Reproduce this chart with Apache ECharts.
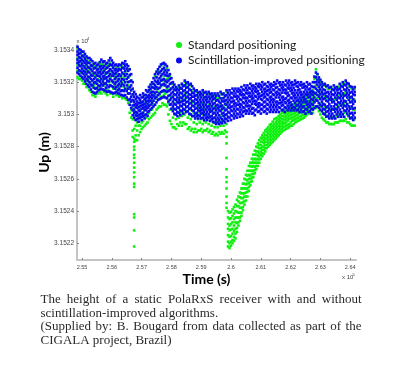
<!DOCTYPE html>
<html><head><meta charset="utf-8">
<script src="https://cdn.jsdelivr.net/npm/echarts@6/dist/echarts.min.js"></script>
<style>html,body{margin:0;padding:0;background:#fff}#c{width:400px;height:384px}</style>
</head><body><div id="c"></div>
<script>
// Epoch times (s) of the sample columns
const timeS = [254850,254950,255050,255150,255250,255350,255450,255550,255650,255750,
255850,255950,256050,256150,256250,256350,256450,256550,256650,256750,
256850,256950,257050,257150,257250,257350,257450,257550,257650,257750,
257850,257950,258050,258150,258250,258350,258450,258550,258650,258750,
258850,258950,259050,259150,259250,259350,259450,259550,259650,259750,
259850,259950,260050,260150,260250,260350,260450,260550,260650,260750,
260850,260950,261050,261150,261250,261350,261450,261550,261650,261750,
261850,261950,262050,262150,262250,262350,262450,262550,262650,262750,
262850,262950,263050,263150,263250,263350,263450,263550,263650,263750,
263850,263950,264050,264150];
// Epoch times (s) of the in-between sample columns
const timeMidS = [254900,255000,255100,255200,255300,255400,255500,255600,255700,255800,
255900,256000,256100,256200,256300,256400,256500,256600,256700,256800,
256900,257000,257100,257200,257300,257400,257500,257600,257700,257800,
257900,258000,258100,258200,258300,258400,258500,258600,258700,258800,
258900,259000,259100,259200,259300,259400,259500,259600,259700,259800,
259900,260000,260100,260200,260300,260400,260500,260600,260700,260800,
260900,261000,261100,261200,261300,261400,261500,261600,261700,261800,
261900,262000,262100,262200,262300,262400,262500,262600,262700,262800,
262900,263000,263100,263200,263300,263400,263500,263600,263700,263800,
263900,264000,264100];

// Up (m), scintillation-improved positioning
const scintUpM = [
[31534.2,31533.9,31533.7,31533.4,31533.2,31532.9,31532.6],
[31534.0,31533.8,31533.5,31533.3,31533.0,31532.7,31532.4],
[31533.9,31533.6,31533.3,31533.0,31532.7,31532.5,31532.2],
[31533.6,31533.3,31533.1,31532.8,31532.5,31532.2,31531.9],
[31533.5,31533.2,31532.9,31532.6,31532.3,31532.0,31531.7],
[31533.3,31533.0,31532.7,31532.4,31532.1,31531.8,31531.4],
[31533.2,31532.9,31532.6,31532.3,31532.0,31531.6,31531.3],
[31533.1,31532.8,31532.6,31532.4,31532.1,31531.8,31531.5],
[31533.4,31533.0,31532.8,31532.5,31532.2,31531.9,31531.6],
[31533.3,31533.0,31532.7,31532.4,31532.2,31531.9,31531.5],
[31533.2,31532.9,31532.6,31532.3,31532.1,31531.8,31531.4],
[31533.5,31533.1,31532.8,31532.5,31532.2,31531.8,31531.4],
[31533.2,31532.9,31532.6,31532.4,31532.0,31531.7,31531.3],
[31533.1,31532.8,31532.6,31532.3,31532.0,31531.7,31531.4],
[31533.1,31532.8,31532.5,31532.2,31531.9,31531.6,31531.3],
[31533.2,31532.9,31532.6,31532.2,31531.9,31531.5,31531.2],
[31533.3,31533.0,31532.7,31532.4,31532.0,31531.6,31531.2],
[31533.0,31532.7,31532.3,31532.0,31531.6,31531.3,31530.9],
[31532.5,31532.1,31531.8,31531.5,31531.1,31530.8,31530.4],
[31531.4,31531.1,31530.8,31530.6,31530.3,31530.1,31529.8],
[31531.1,31530.8,31530.6,31530.4,31530.1,31529.9,31529.7],
[31531.2,31530.9,31530.7,31530.5,31530.2,31530.0,31529.8],
[31531.3,31531.1,31530.8,31530.6,31530.4,31530.1,31529.9],
[31531.5,31531.2,31531.0,31530.8,31530.5,31530.3,31530.0],
[31531.7,31531.5,31531.2,31531.0,31530.8,31530.5,31530.2],
[31532.0,31531.7,31531.4,31531.2,31531.0,31530.7,31530.4],
[31532.5,31532.1,31531.8,31531.6,31531.3,31531.0,31530.6],
[31532.8,31532.5,31532.1,31531.9,31531.6,31531.2,31530.9],
[31533.1,31532.7,31532.4,31532.1,31531.8,31531.4,31531.0],
[31533.2,31532.9,31532.6,31532.2,31531.9,31531.5,31531.1],
[31533.0,31532.6,31532.4,31532.0,31531.7,31531.4,31531.0],
[31532.5,31532.2,31531.9,31531.5,31531.2,31530.9,31530.6],
[31532.0,31531.7,31531.4,31531.1,31530.8,31530.5,31530.2],
[31531.7,31531.5,31531.2,31530.9,31530.6,31530.3,31530.0],
[31531.8,31531.5,31531.2,31530.9,31530.7,31530.4,31530.1],
[31531.9,31531.6,31531.3,31531.0,31530.8,31530.5,31530.2],
[31532.1,31531.8,31531.5,31531.2,31530.9,31530.6,31530.3],
[31532.0,31531.7,31531.4,31531.1,31530.8,31530.5,31530.2],
[31531.9,31531.5,31531.2,31531.0,31530.7,31530.4,31530.0],
[31531.6,31531.3,31531.1,31530.8,31530.5,31530.2,31529.9],
[31531.5,31531.2,31530.9,31530.7,31530.4,31530.1,31529.9],
[31531.4,31531.2,31530.9,31530.6,31530.4,31530.2,31529.9],
[31531.5,31531.2,31530.9,31530.6,31530.3,31530.1,31529.8],
[31531.4,31531.1,31530.9,31530.6,31530.3,31530.0,31529.8],
[31531.4,31531.1,31530.8,31530.5,31530.3,31530.0,31529.8],
[31531.3,31531.1,31530.8,31530.5,31530.2,31529.9,31529.7],
[31531.3,31531.0,31530.7,31530.4,31530.1,31529.8,31529.5],
[31531.3,31530.9,31530.6,31530.4,31530.1,31529.8,31529.5],
[31531.4,31531.0,31530.7,31530.5,31530.2,31529.8,31529.5],
[31531.3,31531.0,31530.8,31530.4,31530.1,31529.9,31529.6],
[31531.5,31531.2,31530.9,31530.6,31530.3,31530.0,31529.7],
[31531.5,31531.2,31530.9,31530.6,31530.4,31530.1,31529.8],
[31531.6,31531.3,31531.0,31530.8,31530.5,31530.2,31529.9],
[31531.6,31531.3,31531.1,31530.7,31530.5,31530.2,31529.9],
[31531.6,31531.4,31531.1,31530.8,31530.6,31530.3,31530.0],
[31531.7,31531.4,31531.2,31530.9,31530.6,31530.3,31530.0],
[31531.8,31531.5,31531.2,31531.0,31530.7,31530.4,31530.2],
[31531.8,31531.5,31531.3,31531.0,31530.7,31530.5,31530.2],
[31531.9,31531.6,31531.3,31531.1,31530.8,31530.5,31530.2],
[31531.8,31531.6,31531.3,31531.0,31530.8,31530.4,31530.1],
[31531.9,31531.6,31531.4,31531.1,31530.8,31530.6,31530.3],
[31531.9,31531.7,31531.3,31531.1,31530.7,31530.5,31530.2],
[31532.0,31531.7,31531.4,31531.2,31530.9,31530.6,31530.3],
[31531.9,31531.6,31531.4,31531.1,31530.8,31530.5,31530.2],
[31532.0,31531.7,31531.5,31531.2,31530.9,31530.6,31530.3],
[31531.9,31531.7,31531.4,31531.1,31530.9,31530.6,31530.3],
[31532.0,31531.8,31531.5,31531.2,31530.9,31530.6,31530.3],
[31532.1,31531.7,31531.4,31531.2,31530.8,31530.6,31530.3],
[31532.0,31531.8,31531.5,31531.2,31530.9,31530.7,31530.4],
[31532.0,31531.7,31531.5,31531.1,31530.9,31530.6,31530.3],
[31532.1,31531.8,31531.5,31531.3,31531.0,31530.7,31530.4],
[31532.1,31531.8,31531.6,31531.2,31530.9,31530.7,31530.4],
[31532.0,31531.8,31531.5,31531.3,31531.0,31530.6,31530.4],
[31532.1,31531.9,31531.5,31531.2,31531.0,31530.7,31530.4],
[31532.0,31531.7,31531.5,31531.2,31530.9,31530.6,31530.3],
[31532.0,31531.8,31531.4,31531.2,31530.9,31530.6,31530.3],
[31531.9,31531.7,31531.4,31531.1,31530.9,31530.5,31530.2],
[31532.0,31531.7,31531.4,31531.2,31530.8,31530.6,31530.3],
[31531.9,31531.6,31531.4,31531.1,31530.8,31530.5,31530.2],
[31532.0,31531.7,31531.4,31531.2,31530.9,31530.6,31530.3],
[31532.6,31532.3,31532.0,31531.6,31531.3,31530.9,31530.5],
[31532.3,31532.0,31531.7,31531.4,31531.1,31530.7,31530.4],
[31532.0,31531.7,31531.4,31531.1,31530.8,31530.5,31530.2],
[31531.9,31531.5,31531.3,31531.0,31530.6,31530.3,31530.0],
[31531.8,31531.4,31531.1,31530.8,31530.5,31530.2,31529.9],
[31531.7,31531.4,31531.1,31530.9,31530.5,31530.2,31529.9],
[31531.8,31531.5,31531.2,31530.8,31530.5,31530.3,31529.9],
[31531.7,31531.5,31531.2,31530.9,31530.6,31530.3,31530.0],
[31531.9,31531.6,31531.3,31531.0,31530.7,31530.3,31530.0],
[31532.0,31531.7,31531.3,31531.0,31530.7,31530.4,31530.0],
[31532.1,31531.8,31531.5,31531.2,31530.8,31530.5,31530.2],
[31531.9,31531.5,31531.2,31530.9,31530.5,31530.2,31529.9],
[31531.7,31531.4,31531.1,31530.8,31530.5,31530.1,31529.8],
[31531.7,31531.4,31531.2,31530.8,31530.4,31530.1,31529.8]
];
const scintUpMidM = [
[31534.05,31533.75,31533.55,31533.25,31533.05,31532.75,31532.50],
[31533.90,31533.65,31533.40,31533.15,31532.85,31532.60,31532.30],
[31533.75,31533.45,31533.20,31532.90,31532.65,31532.35,31532.05],
[31533.50,31533.20,31532.95,31532.65,31532.35,31532.10,31531.80],
[31533.40,31533.05,31532.80,31532.45,31532.20,31531.85,31531.55],
[31533.15,31532.85,31532.55,31532.20,31531.95,31531.65,31531.35],
[31533.05,31532.75,31532.45,31532.15,31531.90,31531.65,31531.40],
[31533.25,31532.95,31532.65,31532.35,31532.05,31531.75,31531.55],
[31533.25,31532.90,31532.60,31532.35,31532.05,31531.80,31531.55],
[31533.15,31532.85,31532.55,31532.25,31531.95,31531.65,31531.45],
[31533.35,31533.00,31532.70,31532.40,31532.05,31531.70,31531.45],
[31533.35,31533.05,31532.70,31532.40,31532.10,31531.75,31531.35],
[31533.05,31532.75,31532.50,31532.20,31531.90,31531.60,31531.35],
[31533.00,31532.70,31532.40,31532.10,31531.80,31531.50,31531.30],
[31533.05,31532.75,31532.40,31532.05,31531.75,31531.45,31531.20],
[31533.15,31532.85,31532.50,31532.15,31531.80,31531.45,31531.15],
[31533.10,31532.85,31532.50,31532.20,31531.80,31531.45,31531.05],
[31532.80,31532.45,31532.05,31531.70,31531.30,31530.95,31530.60],
[31532.00,31531.60,31531.25,31530.90,31530.55,31530.25,31529.95],
[31531.25,31530.95,31530.65,31530.45,31530.15,31529.95,31529.65],
[31531.00,31530.70,31530.45,31530.25,31529.95,31529.75,31529.55],
[31531.05,31530.75,31530.55,31530.35,31530.05,31529.85,31529.65],
[31531.20,31530.95,31530.65,31530.45,31530.25,31529.95,31529.75],
[31531.40,31531.10,31530.85,31530.65,31530.40,31530.15,31529.90],
[31531.85,31531.60,31531.35,31531.10,31530.85,31530.60,31530.30],
[31532.25,31531.90,31531.65,31531.40,31531.15,31530.85,31530.50],
[31532.65,31532.30,31532.00,31531.70,31531.40,31531.10,31530.75],
[31532.95,31532.60,31532.25,31531.95,31531.65,31531.30,31530.95],
[31533.15,31532.80,31532.50,31532.15,31531.85,31531.45,31531.05],
[31533.10,31532.75,31532.45,31532.10,31531.80,31531.45,31531.05],
[31532.75,31532.40,31532.10,31531.75,31531.45,31531.15,31530.80],
[31532.25,31531.95,31531.60,31531.30,31531.00,31530.65,31530.35],
[31531.85,31531.55,31531.25,31530.95,31530.65,31530.35,31530.05],
[31531.60,31531.35,31531.05,31530.75,31530.45,31530.15,31529.90],
[31531.65,31531.35,31531.05,31530.75,31530.55,31530.25,31529.95],
[31531.75,31531.45,31531.15,31530.85,31530.65,31530.35,31530.05],
[31531.95,31531.65,31531.35,31531.05,31530.75,31530.45,31530.15],
[31531.85,31531.55,31531.25,31530.95,31530.65,31530.35,31530.05],
[31531.75,31531.35,31531.10,31530.85,31530.55,31530.25,31529.90],
[31531.45,31531.15,31530.95,31530.65,31530.35,31530.05,31529.75],
[31531.35,31531.05,31530.75,31530.55,31530.25,31529.95,31529.75],
[31531.30,31531.05,31530.75,31530.45,31530.25,31530.05,31529.75],
[31531.35,31531.05,31530.75,31530.45,31530.15,31529.95,31529.65],
[31531.25,31530.95,31530.75,31530.45,31530.15,31529.85,31529.65],
[31531.25,31530.95,31530.65,31530.35,31530.15,31529.85,31529.60],
[31531.15,31530.95,31530.65,31530.35,31530.05,31529.75,31529.55],
[31531.15,31530.85,31530.55,31530.25,31529.95,31529.65,31529.40],
[31531.15,31530.80,31530.45,31530.25,31529.95,31529.65,31529.40],
[31531.25,31530.85,31530.55,31530.35,31530.05,31529.70,31529.45],
[31531.15,31530.85,31530.65,31530.25,31529.95,31529.75,31529.50],
[31531.35,31531.05,31530.75,31530.45,31530.15,31529.85,31529.60],
[31531.35,31531.05,31530.75,31530.45,31530.25,31529.95,31529.65],
[31531.45,31531.15,31530.85,31530.65,31530.35,31530.05,31529.75],
[31531.45,31531.15,31530.95,31530.60,31530.35,31530.05,31529.80],
[31531.50,31531.25,31530.95,31530.65,31530.45,31530.15,31529.85],
[31531.55,31531.25,31531.05,31530.75,31530.45,31530.15,31529.90],
[31531.65,31531.35,31531.05,31530.85,31530.55,31530.25,31530.05],
[31531.65,31531.35,31531.15,31530.85,31530.55,31530.35,31530.05],
[31531.75,31531.45,31531.15,31530.95,31530.65,31530.35,31530.05],
[31531.70,31531.45,31531.15,31530.85,31530.65,31530.25,31529.95],
[31531.75,31531.45,31531.25,31530.95,31530.65,31530.45,31530.15],
[31531.80,31531.55,31531.15,31530.95,31530.60,31530.35,31530.05],
[31531.85,31531.55,31531.25,31531.05,31530.75,31530.45,31530.15],
[31531.75,31531.45,31531.25,31530.95,31530.65,31530.35,31530.05],
[31531.85,31531.55,31531.35,31531.05,31530.75,31530.45,31530.15],
[31531.80,31531.55,31531.25,31530.95,31530.75,31530.45,31530.15],
[31531.90,31531.65,31531.35,31531.05,31530.75,31530.45,31530.15],
[31531.95,31531.55,31531.30,31531.05,31530.70,31530.45,31530.15],
[31531.85,31531.65,31531.35,31531.05,31530.75,31530.55,31530.25],
[31531.85,31531.55,31531.35,31530.95,31530.75,31530.45,31530.15],
[31531.95,31531.65,31531.35,31531.15,31530.85,31530.55,31530.25],
[31531.95,31531.65,31531.45,31531.05,31530.75,31530.55,31530.25],
[31531.85,31531.65,31531.35,31531.15,31530.85,31530.45,31530.25],
[31531.95,31531.75,31531.35,31531.05,31530.85,31530.55,31530.25],
[31531.85,31531.55,31531.35,31531.05,31530.75,31530.45,31530.15],
[31531.85,31531.65,31531.25,31531.05,31530.75,31530.45,31530.15],
[31531.75,31531.55,31531.25,31530.95,31530.75,31530.35,31530.05],
[31531.85,31531.55,31531.25,31531.05,31530.65,31530.45,31530.15],
[31531.75,31531.45,31531.25,31530.95,31530.65,31530.35,31530.05],
[31532.35,31532.00,31531.70,31531.35,31531.05,31530.75,31530.40],
[31532.50,31532.15,31531.85,31531.50,31531.20,31530.85,31530.50],
[31532.15,31531.85,31531.55,31531.25,31530.95,31530.60,31530.30],
[31531.85,31531.55,31531.25,31530.95,31530.65,31530.35,31530.05],
[31531.75,31531.35,31531.15,31530.85,31530.45,31530.15,31529.85],
[31531.65,31531.25,31530.95,31530.65,31530.35,31530.05,31529.75],
[31531.55,31531.25,31530.95,31530.75,31530.35,31530.05,31529.75],
[31531.65,31531.35,31531.05,31530.65,31530.35,31530.15,31529.75],
[31531.55,31531.35,31531.05,31530.75,31530.45,31530.15,31529.85],
[31531.75,31531.45,31531.15,31530.85,31530.55,31530.15,31529.85],
[31531.85,31531.55,31531.15,31530.85,31530.55,31530.25,31529.85],
[31531.95,31531.65,31531.35,31531.05,31530.65,31530.35,31530.05],
[31531.75,31531.35,31531.05,31530.75,31530.35,31530.05,31529.75],
[31531.55,31531.25,31530.95,31530.65,31530.35,31529.95,31529.65]
];

// Up (m), standard positioning
const standardUpM = [
[31534.1,31533.5,31533.1,31532.7,31532.3],
[31533.9,31533.4,31533.0,31532.6,31532.2],
[31533.7,31533.2,31532.8,31532.3,31531.9],
[31533.4,31533.0,31532.6,31532.1,31531.7],
[31533.3,31532.8,31532.3,31531.9,31531.5],
[31533.1,31532.6,31532.1,31531.7,31531.2],
[31533.0,31532.5,31532.0,31531.6,31531.1],
[31533.2,31532.6,31532.2,31531.7,31531.3],
[31533.1,31532.7,31532.2,31531.8,31531.3],
[31533.3,31532.8,31532.3,31531.8,31531.4],
[31533.0,31532.6,31532.1,31531.6,31531.2],
[31533.2,31532.8,31532.3,31531.8,31531.3],
[31533.0,31532.5,31532.1,31531.6,31531.1],
[31532.9,31532.5,31532.0,31531.6,31531.2],
[31532.9,31532.4,31531.9,31531.5,31531.1],
[31533.0,31532.5,31532.0,31531.5,31531.0],
[31533.1,31532.6,31532.0,31531.5,31531.0],
[31532.8,31532.3,31531.8,31531.3,31530.7],
[31532.1,31531.5,31530.9,31530.3,31529.8],
[31530.8,31530.2,31529.7,31529.1,31528.5,31528.3,31528.0,31527.8,31527.5,31527.3,31527.0,31526.7,31526.4,31526.1,31525.7,31525.5,31523.8,31523.6,31522.8,31521.8],
[31530.6,31530.1,31529.5,31529.0,31528.4],
[31530.8,31530.3,31529.8,31529.3,31528.9],
[31531.1,31530.6,31530.1,31529.6,31529.2],
[31531.2,31530.7,31530.3,31529.8,31529.4],
[31531.7,31531.1,31530.6,31530.1,31529.7],
[31531.9,31531.3,31530.8,31530.3,31529.9],
[31532.4,31531.7,31531.1,31530.6,31530.1],
[31532.7,31532.0,31531.4,31530.9,31530.4],
[31533.0,31532.3,31531.7,31531.1,31530.5],
[31533.1,31532.4,31531.8,31531.2,31530.6],
[31532.9,31532.2,31531.6,31531.0,31530.5],
[31532.4,31531.6,31530.9,31530.3,31529.6],
[31531.9,31531.1,31530.4,31529.8,31529.2],
[31531.6,31530.9,31530.3,31529.7,31529.1],
[31531.7,31531.0,31530.4,31529.8,31529.3],
[31531.8,31531.1,31530.5,31529.9,31529.3],
[31532.0,31531.3,31530.6,31530.0,31529.4],
[31531.9,31531.2,31530.5,31529.8,31529.1],
[31531.8,31531.0,31530.3,31529.7,31529.0],
[31531.5,31530.8,31530.1,31529.5,31528.9],
[31531.4,31530.7,31530.0,31529.4,31528.9],
[31531.3,31530.7,31530.1,31529.5,31529.0],
[31531.4,31530.7,31530.0,31529.4,31528.9],
[31531.3,31530.6,31530.0,31529.5,31529.0],
[31531.3,31530.6,31530.0,31529.4,31528.9],
[31531.2,31530.5,31529.9,31529.3,31528.8],
[31531.2,31530.5,31529.8,31529.2,31528.7],
[31531.2,31530.4,31529.7,31529.2,31528.7],
[31531.3,31530.6,31529.9,31529.3,31528.8],
[31531.2,31530.5,31529.9,31529.3,31528.8],
[31531.4,31530.7,31530.0,31529.4,31528.9,31528.6,31528.2,31527.3,31526.6,31526.1,31525.8,31525.4,31524.9,31524.5,31524.2],
[31523.9,31523.5,31523.1,31522.8,31522.4,31522.0,31521.7],
[31524.1,31523.7,31523.3,31522.9,31522.6,31522.2,31522.0],
[31524.4,31524.0,31523.6,31523.3,31522.9,31522.6,31522.3],
[31524.9,31524.6,31524.3,31523.9,31523.6,31523.3,31523.1],
[31525.4,31525.1,31524.8,31524.5,31524.2,31523.9,31523.7],
[31526.0,31525.7,31525.4,31525.1,31524.9,31524.6,31524.4],
[31526.5,31526.2,31525.9,31525.7,31525.4,31525.2,31524.9],
[31527.0,31526.8,31526.5,31526.2,31526.0,31525.8,31525.6],
[31527.5,31527.2,31527.0,31526.8,31526.5,31526.3,31526.1],
[31528.0,31527.7,31527.5,31527.2,31527.0,31526.8,31526.6],
[31528.4,31528.1,31527.9,31527.6,31527.4,31527.2,31527.0],
[31528.7,31528.5,31528.3,31528.0,31527.8,31527.6,31527.4],
[31529.0,31528.7,31528.5,31528.3,31528.1,31527.9,31527.7],
[31529.2,31529.0,31528.8,31528.6,31528.4,31528.2,31528.0],
[31529.4,31529.2,31529.0,31528.8,31528.6,31528.4,31528.2],
[31529.7,31529.4,31529.2,31529.0,31528.8,31528.6,31528.4],
[31529.8,31529.6,31529.4,31529.2,31529.0,31528.8,31528.6],
[31530.0,31529.8,31529.6,31529.4,31529.2,31529.0,31528.8],
[31530.2,31529.9,31529.7,31529.5,31529.4,31529.2,31529.0],
[31530.3,31530.1,31529.9,31529.7,31529.5,31529.3,31529.1],
[31530.5,31530.3,31530.1,31529.9,31529.7,31529.4,31529.2],
[31530.6,31530.4,31530.2,31530.0,31529.8,31529.6,31529.3],
[31530.7,31530.5,31530.3,31530.1,31529.9,31529.7,31529.5],
[31530.8,31530.6,31530.4,31530.2,31530.0,31529.8,31529.6],
[31531.0,31530.7,31530.5,31530.3,31530.1,31529.9,31529.7],
[31531.1,31530.9,31530.7,31530.4,31530.2,31530.0,31529.8],
[31531.2,31531.0,31530.8,31530.6,31530.4,31530.2,31530.0],
[31531.3,31531.1,31530.9,31530.7,31530.5,31530.3,31530.1],
[31531.5,31531.2,31531.0,31530.8,31530.6,31530.4,31530.1],
[31532.8,31532.3,31531.8,31531.3,31530.9,31530.4],
[31532.2,31531.7,31531.2,31530.7,31530.2],
[31531.9,31531.3,31530.7,31530.2,31529.8],
[31531.8,31531.1,31530.5,31530.0,31529.6],
[31531.6,31531.0,31530.4,31529.9,31529.5],
[31531.7,31531.0,31530.3,31529.8,31529.4],
[31531.6,31530.9,31530.3,31529.8,31529.4],
[31531.7,31531.0,31530.4,31529.9,31529.5],
[31531.8,31531.2,31530.6,31530.0,31529.6],
[31531.9,31531.2,31530.6,31530.0,31529.6],
[31532.0,31531.4,31530.8,31530.2,31529.7],
[31531.8,31531.1,31530.5,31529.9,31529.5],
[31531.6,31531.0,31530.4,31529.8,31529.3],
[31531.6,31530.9,31530.3,31529.7,31529.3]
];
const standardUpMidM = [
[31533.8,31533.2,31532.7,31532.2],
[31533.6,31533.1,31532.6,31532.1],
[31533.5,31533.0,31532.4,31531.9],
[31533.2,31532.7,31532.2,31531.7],
[31533.0,31532.5,31532.0,31531.4],
[31532.9,31532.4,31531.8,31531.2],
[31532.9,31532.4,31531.9,31531.3],
[31533.0,31532.5,31532.0,31531.4],
[31533.1,31532.6,31532.0,31531.5],
[31533.0,31532.5,31531.9,31531.3],
[31533.1,31532.6,31532.0,31531.4],
[31533.0,31532.6,31532.0,31531.3],
[31532.8,31532.3,31531.8,31531.3],
[31532.8,31532.2,31531.7,31531.2],
[31532.8,31532.3,31531.8,31531.2],
[31532.9,31532.3,31531.7,31531.1],
[31532.8,31532.2,31531.6,31530.9],
[31532.4,31531.6,31530.8,31530.1],
[31531.2,31530.4,31529.7,31529.0,31528.6],
[31530.5,31529.9,31529.3,31528.7,31528.4],
[31530.4,31529.8,31529.3,31528.7],
[31530.6,31530.0,31529.5,31529.1],
[31530.9,31530.3,31529.8,31529.3],
[31531.1,31530.5,31530.0,31529.5],
[31531.5,31530.9,31530.3,31529.8],
[31531.9,31531.2,31530.6,31530.0],
[31532.3,31531.6,31531.0,31530.3],
[31532.6,31531.9,31531.2,31530.5],
[31532.8,31532.1,31531.4,31530.7],
[31532.7,31532.0,31531.3,31530.6],
[31532.3,31531.5,31530.7,31530.0],
[31531.9,31531.1,31530.3,31529.4],
[31531.5,31530.7,31530.0,31529.2],
[31531.5,31530.8,31530.1,31529.4],
[31531.6,31530.8,31530.1,31529.5],
[31531.8,31531.0,31530.2,31529.5],
[31531.8,31531.0,31530.2,31529.4],
[31531.6,31530.8,31530.0,31529.2],
[31531.4,31530.7,31529.9,31529.1],
[31531.2,31530.5,31529.8,31529.1],
[31531.1,31530.4,31529.7,31529.0],
[31531.1,31530.4,31529.7,31529.1],
[31531.0,31530.3,31529.6,31529.0],
[31531.1,31530.4,31529.7,31529.1],
[31531.0,31530.3,31529.6,31529.0],
[31530.9,31530.2,31529.5,31528.9],
[31531.0,31530.3,31529.5,31528.8],
[31531.0,31530.3,31529.6,31528.9],
[31531.0,31530.3,31529.6,31528.9],
[31531.1,31530.4,31529.7,31529.0],
[31524.0,31523.6,31523.2,31522.9,31522.5,31522.1,31521.8],
[31523.95,31523.55,31523.2,31522.85,31522.45,31522.1,31521.85],
[31524.25,31523.85,31523.5,31523.1,31522.75,31522.4,31522.15],
[31524.7,31524.3,31523.95,31523.6,31523.25,31522.95,31522.7],
[31525.15,31524.85,31524.5,31524.2,31523.9,31523.6,31523.4],
[31525.7,31525.4,31525.1,31524.8,31524.55,31524.25,31524.05],
[31526.25,31525.95,31525.65,31525.4,31525.15,31524.9,31524.65],
[31526.8,31526.5,31526.25,31526.0,31525.75,31525.5,31525.25],
[31527.25,31527.0,31526.75,31526.5,31526.3,31526.05,31525.85],
[31527.75,31527.5,31527.25,31527.0,31526.75,31526.55,31526.35],
[31528.2,31527.95,31527.7,31527.45,31527.25,31527.0,31526.8],
[31528.55,31528.3,31528.1,31527.9,31527.7,31527.5,31527.25],
[31528.85,31528.6,31528.4,31528.2,31528.0,31527.8,31527.55],
[31529.1,31528.9,31528.7,31528.5,31528.3,31528.1,31527.9],
[31529.35,31529.1,31528.9,31528.7,31528.5,31528.3,31528.1],
[31529.55,31529.3,31529.1,31528.9,31528.7,31528.5,31528.3],
[31529.75,31529.5,31529.3,31529.1,31528.9,31528.7,31528.5],
[31529.9,31529.7,31529.5,31529.3,31529.1,31528.9,31528.7],
[31530.1,31529.9,31529.7,31529.5,31529.3,31529.1,31528.9],
[31530.25,31530.05,31529.85,31529.65,31529.45,31529.25,31529.05],
[31530.4,31530.2,31530.0,31529.8,31529.6,31529.35,31529.15],
[31530.55,31530.35,31530.15,31529.95,31529.75,31529.5,31529.3],
[31530.65,31530.45,31530.25,31530.05,31529.85,31529.65,31529.4],
[31530.75,31530.55,31530.35,31530.15,31529.95,31529.75,31529.55],
[31530.9,31530.7,31530.5,31530.3,31530.1,31529.85,31529.65],
[31531.05,31530.85,31530.6,31530.4,31530.2,31529.95,31529.75],
[31531.15,31530.95,31530.75,31530.55,31530.3,31530.1,31529.9],
[31531.3,31531.1,31530.85,31530.65,31530.45,31530.25,31530.05],
[31531.4,31531.2,31530.95,31530.75,31530.55,31530.35,31530.1],
[31532.2,31531.7,31531.2,31530.8,31530.4],
[31532.5,31532.0,31531.5,31531.0,31530.5],
[31532.0,31531.5,31531.0,31530.5,31530.0],
[31531.8,31531.2,31530.6,31530.1,31529.7],
[31531.7,31531.0,31530.4,31529.9,31529.5],
[31531.6,31530.9,31530.3,31529.8,31529.4],
[31531.6,31530.9,31530.3,31529.8,31529.4],
[31531.6,31531.0,31530.4,31529.9,31529.5],
[31531.7,31531.1,31530.5,31529.9,31529.5],
[31531.8,31531.2,31530.6,31530.0,31529.6],
[31531.9,31531.3,31530.7,31530.1,31529.6],
[31531.9,31531.2,31530.6,31530.0,31529.5],
[31531.7,31531.0,31530.4,31529.8,31529.4],
[31531.6,31530.9,31530.3,31529.7,31529.3]
];

const seriesNames = ['Standard positioning', 'Scintillation-improved positioning'];
const seriesColors = ['#10f010', '#0808f2'];
const xTickValues = [255000,256000,257000,258000,259000,260000,261000,262000,263000,264000];
const yTickValues = [31522,31524,31526,31528,31530,31532,31534];
const xAxisTitle = 'Time (s)';
const yAxisTitle = 'Up (m)';
const xMultiplier = ['x 10', '5'];
const yMultiplier = ['x 10', '4'];
const captionLines = [
  {text: 'The height of a static PolaRxS receiver with and without', justify: true},
  {text: 'scintillation-improved algorithms.', justify: false},
  {text: '(Supplied by: B. Bougard from data collected as part of the', justify: true},
  {text: 'CIGALA project, Brazil)', justify: false}
];

function toPairs(times, up) {
  const out = [];
  up.forEach((col, i) => col.forEach(v => out.push([times[i], v])));
  return out;
}

const capFont = '13px "Liberation Serif"';
const measureCtx = document.createElement('canvas').getContext('2d');
measureCtx.font = capFont;

function captionGraphics() {
  const els = [];
  const left = 40.5, width = 321, y0 = 300, lh = 13.4;
  captionLines.forEach((ln, k) => {
    const y = y0 + k * lh;
    if (ln.justify) {
      const words = ln.text.split(' ');
      const ws = words.map(w => measureCtx.measureText(w).width);
      const total = ws.reduce((a, b) => a + b, 0);
      const gap = (width - total) / (words.length - 1);
      let x = left;
      words.forEach((w, j) => {
        els.push({type: 'text', x: x, y: y, silent: true,
          style: {text: w, font: capFont, fill: '#2a2a2a', align: 'left', verticalAlign: 'middle'}});
        x += ws[j] + gap;
      });
    } else {
      els.push({type: 'text', x: left, y: y, silent: true,
        style: {text: ln.text, font: capFont, fill: '#2a2a2a', align: 'left', verticalAlign: 'middle'}});
    }
  });
  return els;
}

function multiplierGraphics() {
  const st = (t, fs) => ({text: t, font: fs + 'px "Liberation Sans"', fill: '#444', align: 'left', verticalAlign: 'middle'});
  return [
    {type: 'text', x: 76.5, y: 41, style: st(yMultiplier[0], 6)},
    {type: 'text', x: 87, y: 38.5, style: st(yMultiplier[1], 4)},
    {type: 'text', x: 342, y: 277, style: st(xMultiplier[0], 6)},
    {type: 'text', x: 352.5, y: 274.5, style: st(xMultiplier[1], 4)}
  ];
}

const chart = echarts.init(document.getElementById('c'), null, {renderer: 'canvas'});
const fmtX = v => String(+(v / 1e5).toFixed(2));
const fmtY = v => String(+(v / 1e4).toFixed(4));

chart.setOption({
  animation: false,
  backgroundColor: '#ffffff',
  grid: {left: 77, right: 44, top: 45, bottom: 124, containLabel: false},
  legend: {
    orient: 'vertical', left: 171, top: 33, itemWidth: 6, itemHeight: 6, itemGap: 1.5,
    icon: 'circle', data: seriesNames,
    textStyle: {fontFamily: 'Lato', fontSize: 12, color: '#1a1a1a', lineHeight: 14, padding: [0, 0, 0, 1]}
  },
  xAxis: {
    type: 'value', min: 254832, max: 264195,
    name: xAxisTitle, nameLocation: 'middle', nameGap: 12, nameMoveOverlap: false,
    nameTextStyle: {fontFamily: 'Lato', fontWeight: 'bold', fontSize: 14, color: '#000', padding: [0, 20, 0, 0]},
    axisLine: {show: true, onZero: false, lineStyle: {color: '#c4c4c4', width: 2}},
    axisTick: {show: true, inside: true, length: 2, customValues: xTickValues, lineStyle: {color: '#888'}},
    axisLabel: {customValues: xTickValues, formatter: fmtX, fontFamily: 'Liberation Sans', fontSize: 5.5, color: '#444', margin: 4},
    splitLine: {show: false}
  },
  yAxis: {
    type: 'value', min: 31520.96, max: 31534.31,
    name: yAxisTitle, nameLocation: 'middle', nameGap: 26, nameMoveOverlap: false,
    nameTextStyle: {fontFamily: 'Lato', fontWeight: 'bold', fontSize: 14, color: '#000'},
    axisLine: {show: true, onZero: false, lineStyle: {color: '#c4c4c4', width: 2}},
    axisTick: {show: true, inside: true, length: 2, customValues: yTickValues, lineStyle: {color: '#888'}},
    axisLabel: {customValues: yTickValues, formatter: fmtY, fontFamily: 'Liberation Sans', fontSize: 6.5, color: '#444', margin: 3},
    splitLine: {show: false}
  },
  series: [
    {name: seriesNames[0], type: 'scatter', symbol: 'rect', symbolSize: 2.6,
     itemStyle: {color: seriesColors[0], opacity: 1},
     data: toPairs(timeS, standardUpM).concat(toPairs(timeMidS, standardUpMidM))},
    {name: seriesNames[1], type: 'scatter', symbol: 'rect', symbolSize: 2.6,
     itemStyle: {color: seriesColors[1], opacity: 1},
     data: toPairs(timeS, scintUpM).concat(toPairs(timeMidS, scintUpMidM))}
  ],
  graphic: captionGraphics().concat(multiplierGraphics())
});
</script>
</body></html>
